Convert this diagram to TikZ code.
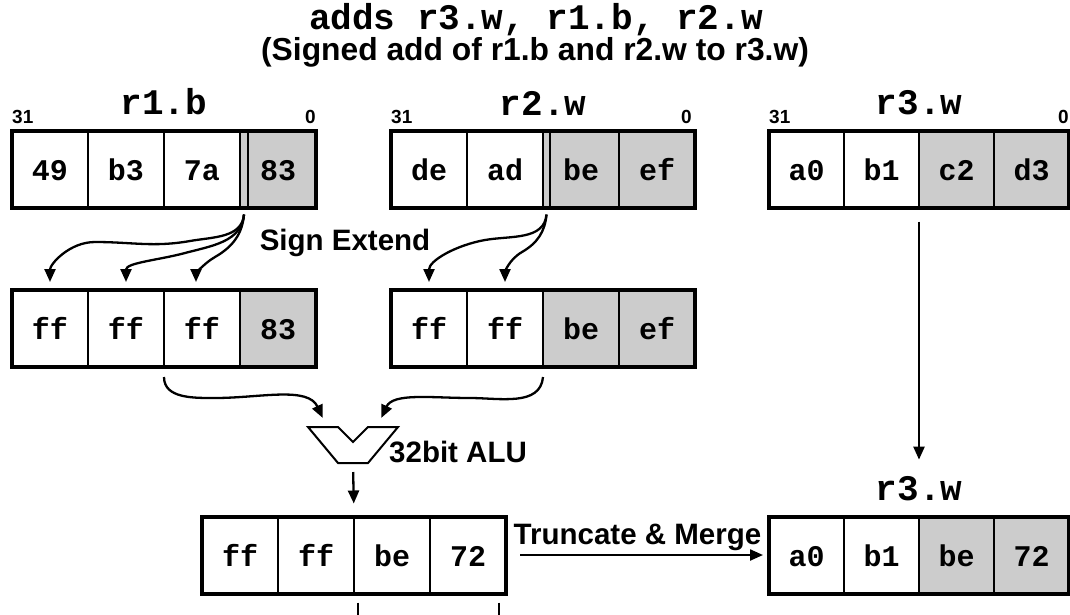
\documentclass[tikz,border=0pt]{standalone}
\usepackage{fontspec}
\setmainfont{Liberation Sans}
\setmonofont{Liberation Mono}
\usetikzlibrary{arrows.meta,positioning,calc,fit}

\begin{document}
\begin{tikzpicture}[
  x=1pt, y=-1pt,
  cell/.style={draw, line width=1.3pt, minimum width=76pt, minimum height=77pt,
               inner sep=0pt, outer sep=0pt, text height=22pt, text depth=0pt,
               font=\fontsize{30}{30}\selectfont\ttfamily\bfseries},
  narrow/.style={cell, minimum width=75pt},
  shade/.style={fill=black!20},
  regbox/.style={draw, line width=4pt, inner sep=0pt, outer sep=0pt},
  reglabel/.style={inner sep=0pt, font=\fontsize{36}{36}\selectfont\ttfamily\bfseries},
  bitlabel/.style={inner sep=0pt, font=\fontsize{19}{19}\selectfont\bfseries},
  note/.style={inner sep=0pt, font=\fontsize{29.5}{30}\selectfont\bfseries},
  arr/.style={-{Triangle[length=13pt,width=11pt]}, line width=2.3pt},
  signbit/.style={line width=1.3pt}
]
\path[use as bounding box, fill=white] (0,0) rectangle (1070,614);

\node[inner sep=0pt, anchor=base, font=\fontsize{36}{36}\selectfont\ttfamily\bfseries]
  (title) at (536,29) {adds r3.w, r1.b, r2.w};
\node[inner sep=0pt, anchor=base, font=\fontsize{31.8}{32}\selectfont\bfseries]
  (subtitle) at (535,60) {(Signed add of r1.b and r2.w to r3.w)};

% source registers
\node[cell] (a1) at (50,169) {49};
\node[cell, right=0pt of a1] (a2) {b3};
\node[cell, right=0pt of a2] (a3) {7a};
\node[cell, shade, right=0pt of a3] (a4) {83};
\node[regbox, fit=(a1)(a4)] (r1) {};
\draw[signbit] ([xshift=8pt]a4.north west) -- ([xshift=8pt]a4.south west);

\node[cell] (b1) at (429,169) {de};
\node[cell, right=0pt of b1] (b2) {ad};
\node[cell, shade, right=0pt of b2] (b3) {be};
\node[cell, shade, right=0pt of b3] (b4) {ef};
\node[regbox, fit=(b1)(b4)] (r2) {};
\draw[signbit] ([xshift=7pt]b3.north west) -- ([xshift=7pt]b3.south west);

\node[narrow] (c1) at (806.5,169) {a0};
\node[narrow, right=0pt of c1] (c2) {b1};
\node[narrow, shade, right=0pt of c2] (c3) {c2};
\node[narrow, shade, right=0pt of c3] (c4) {d3};
\node[regbox, fit=(c1)(c4)] (r3t) {};

\node[reglabel, above=15pt of r1] (r1lab) {r1.b};
\node[bitlabel, above right=7pt and 0pt of r1.north west] (r1hi) {31};
\node[bitlabel, above left=7pt and 0pt of r1.north east] (r1lo) {0};
\node[reglabel, above=15pt of r2] (r2lab) {r2.w};
\node[bitlabel, above right=7pt and 0pt of r2.north west] (r2hi) {31};
\node[bitlabel, above left=7pt and 3pt of r2.north east] (r2lo) {0};
\node[reglabel, above=15pt of r3t] (r3tlab) {r3.w};
\node[bitlabel, above right=7pt and 0pt of r3t.north west] (r3hi) {31};
\node[bitlabel, above left=7pt and 0pt of r3t.north east] (r3lo) {0};

% sign extended operands
\node[cell] (p1) at (50,328.5) {ff};
\node[cell, right=0pt of p1] (p2) {ff};
\node[cell, right=0pt of p2] (p3) {ff};
\node[cell, shade, right=0pt of p3] (p4) {83};
\node[regbox, fit=(p1)(p4)] (x1) {};

\node[cell] (q1) at (429,328.5) {ff};
\node[cell, right=0pt of q1] (q2) {ff};
\node[cell, shade, right=0pt of q2] (q3) {be};
\node[cell, shade, right=0pt of q3] (q4) {ef};
\node[regbox, fit=(q1)(q4)] (x2) {};

\node[note, anchor=base] (signext) at (345,250) {Sign Extend};

\coordinate (s1) at ([xshift=4pt,yshift=-7pt]a4.south west);
\coordinate (s2) at ([xshift=3.5pt,yshift=-7pt]b3.south west);
\draw[arr, shorten >=8pt] (s1) to[out=-95,in=10] (190,241) to[out=190,in=0] (95,242)
  to[out=180,in=90] (p1.north);
\draw[arr, shorten >=8pt] (s1) to[out=-95,in=15] (185,253) to[out=195,in=90] (p2.north);
\draw[arr, shorten >=8pt] (s1) to[out=-95,in=30] (215,257)
  to[out=210,in=90] ([xshift=-6pt]p3.north);
\draw[arr, shorten >=8pt] (s2) to[out=-95,in=10] (485,240) to[out=190,in=90] (q1.north);
\draw[arr, shorten >=8pt] (s2) to[out=-95,in=30] (522,252) to[out=210,in=90] (q2.north);

% adder
\draw[line width=2pt, line join=miter] (308,427) -- (338,427) -- (353,442) -- (368,427)
  -- (398,427) -- (368,463) -- (338,463) -- cycle;
\coordinate (aluin1) at (327,427);
\coordinate (aluin2) at (377,427);
\coordinate (aluout) at (353,463);
\node[note, anchor=base west] (alulab) at (389,462) {32bit ALU};

\coordinate (t1) at ([yshift=-10pt]p3.south west);
\coordinate (t2) at ([yshift=-10pt]q2.south east);
\draw[arr, shorten >=10pt] (t1) to[out=-90,in=180] (215,398) to[out=0,in=115] (aluin1);
\draw[arr, shorten >=10pt] (t2) to[out=-95,in=0] (470,398) to[out=180,in=65] (aluin2);

% result
\node[cell] (d1) at (240,555) {ff};
\node[cell, right=0pt of d1] (d2) {ff};
\node[cell, right=0pt of d2] (d3) {be};
\node[cell, right=0pt of d3] (d4) {72};
\node[regbox, fit=(d1)(d4)] (res) {};
\draw[arr, shorten <=9pt, shorten >=13pt] (aluout) -- (d2.north east);
\draw[line width=1.5pt] ([xshift=4pt,yshift=-9pt]d3.south west) -- ++(0,20);
\draw[line width=1.5pt] ([xshift=-7pt,yshift=-9pt]d4.south east) -- ++(0,20);

\node[narrow] (e1) at (806.5,555) {a0};
\node[narrow, right=0pt of e1] (e2) {b1};
\node[narrow, shade, right=0pt of e2] (e3) {be};
\node[narrow, shade, right=0pt of e3] (e4) {72};
\node[regbox, fit=(e1)(e4)] (r3b) {};
\node[reglabel, above=15pt of r3b] (r3blab) {r3.w};

\draw[arr, shorten <=14pt, shorten >=6pt] (res) -- (r3b)
  node[note, midway, above=3pt] (merge) {Truncate \& Merge};
\draw[arr, shorten <=14pt, shorten >=17pt] (r3t) -- (r3blab);
\end{tikzpicture}
\end{document}
